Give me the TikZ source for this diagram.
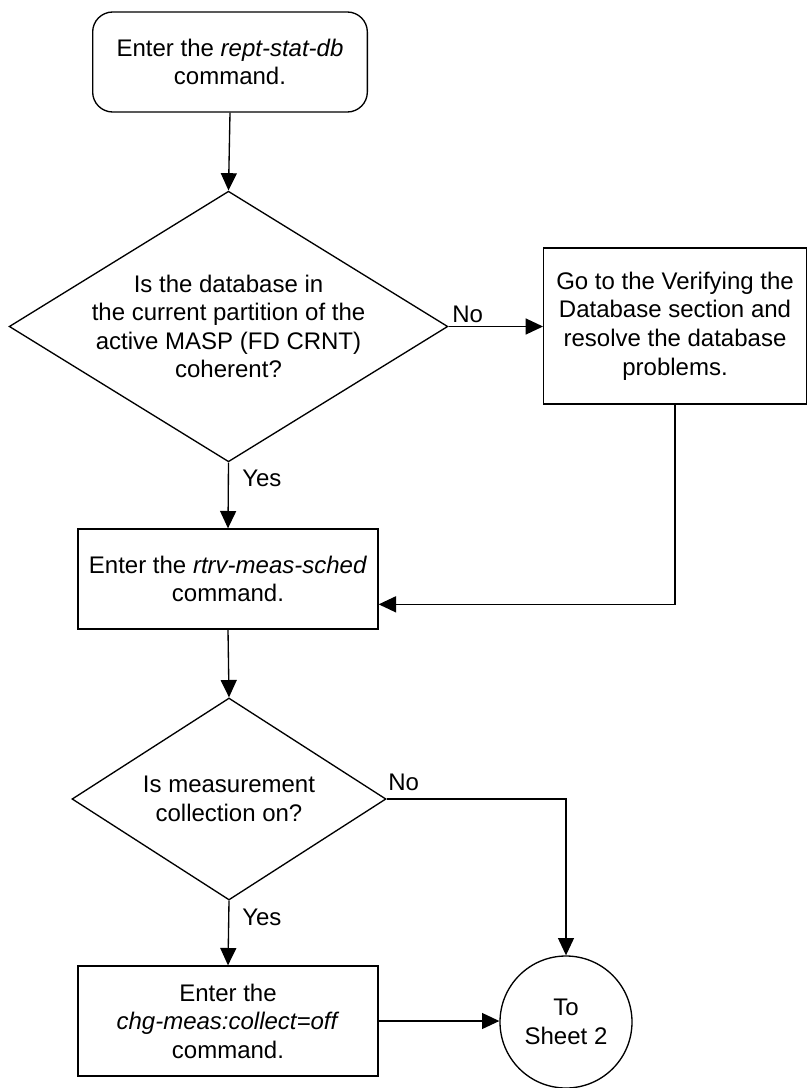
\documentclass[tikz,border=0pt]{standalone}
\usepackage{fontspec}
\setmainfont{Liberation Sans}
\usetikzlibrary{shapes.geometric,arrows.meta}
\begin{document}
\begin{tikzpicture}[x=0.75pt,y=-0.75pt,
  every node/.style={font=\fontsize{18}{21.4}\selectfont, align=center},
  arr/.style={line width=1pt,-{Triangle[length=13pt,width=12pt]}},
  boxa/.style={draw,line width=1pt,rectangle,inner sep=0pt},
  dia/.style={draw,line width=1pt,diamond,inner sep=0pt},
  lbl/.style={inner sep=0pt}]
\useasboundingbox (0,0) rectangle (809,1088);
\node[boxa,rounded corners=15pt,minimum width=206pt,minimum height=75pt] (start) at (230,62) {Enter the \textit{rept-stat-db}\\command.};
\node[dia,minimum width=329pt,minimum height=203pt] (d1) at (228.5,326.5) {};
\node (d1t) at (d1.center) {Is the database in\\the current partition of the\\active MASP (FD CRNT)\\coherent?};
\node[boxa,minimum width=197pt,minimum height=117pt] (goto) at (675,326) {Go to the Verifying the\\Database section and\\resolve the database\\problems.};
\node[boxa,minimum width=225pt,minimum height=75pt] (b2) at (228,579) {Enter the \textit{rtrv-meas-sched}\\command.};
\node[dia,minimum width=235.5pt,minimum height=151.5pt] (d2) at (229,799) {};
\node (d2t) at (d2.center) {Is measurement\\collection on?};
\node[boxa,minimum width=225pt,minimum height=82.5pt] (b3) at (228,1021) {Enter the\\\textit{chg-meas:collect=off}\\command.};
\node[draw,line width=1pt,circle,minimum size=99pt,inner sep=0pt] (c) at (566,1022) {To\\Sheet 2};
\draw[arr] (start.south) -- (d1.north);
\draw[arr] (d1.east) -- (d1.east -| goto.west);
\draw[arr] (d1.south) -- (b2.north);
\draw[arr] (goto.south) |- ([yshift=-19pt]b2.east);
\draw[arr] (b2.south) -- (d2.north);
\draw[arr] (d2.east) -| (c.north);
\draw[arr] (d2.south) -- (b3.north);
\draw[arr] (b3.east) -- (b3.east -| c.west);
\node[lbl,anchor=west] (y1) at (242,478) {Yes};
\node[lbl,anchor=west] (n1) at (452,314) {No};
\node[lbl,anchor=west] (y2) at (242,917) {Yes};
\node[lbl,anchor=west] (n2) at (388,782) {No};
\end{tikzpicture}
\end{document}
